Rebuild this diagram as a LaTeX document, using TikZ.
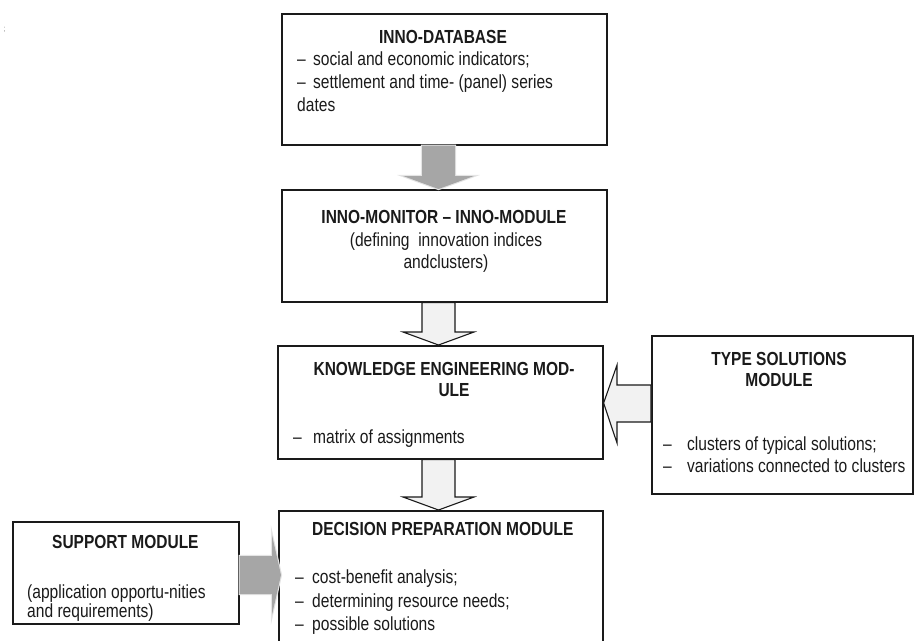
\documentclass[tikz,border=0pt]{standalone}
\usepackage{fontspec}
\setmainfont[FakeStretch=0.82]{Liberation Sans}
\usetikzlibrary{calc}
\definecolor{arrowgray}{HTML}{A6A6A6}
\definecolor{arrowlight}{HTML}{F2F2F2}
\definecolor{inkgray}{HTML}{1A1A1A}

% vertical block arrow from the bottom of box #1 to the top of box #2
\newcommand\vblock[3]{%
  \path[#3] ($(ax |- #1.south)+(-16.5,0)$)
    -- ($(ax |- #2.north)+(-16.5,-13)$) -- ($(ax |- #2.north)+(-35.5,-13)$)
    -- (ax |- #2.north)
    -- ($(ax |- #2.north)+(35.5,-13)$) -- ($(ax |- #2.north)+(16.5,-13)$)
    -- ($(ax |- #1.south)+(16.5,0)$) -- cycle;}

\begin{document}
\begin{tikzpicture}[x=1pt,y=-1pt,
  box/.style={draw=inkgray, line width=1.6pt, rectangle, inner sep=0pt, anchor=north west},
  txt/.style={inner sep=0pt, anchor=base west, text=inkgray, font=\fontsize{19}{22}\selectfont},
  ctxt/.style={txt, anchor=base},
  ttl/.style={ctxt, font=\fontsize{18.9}{22}\selectfont\bfseries},
  solidarrow/.style={fill=arrowgray, preaction={draw=arrowgray!30, line width=2.2pt, line join=miter}},
  openarrow/.style={fill=arrowlight, draw=inkgray, line width=1.1pt, line join=miter},
]
\path[use as bounding box] (0,0) rectangle (915,640);
\clip (0,0) rectangle (915,640);

% boxes
\node[box, minimum width=325, minimum height=131] (db)  at (281,13)  {};
\node[box, minimum width=325, minimum height=112] (mon) at (281,189) {};
\node[box, minimum width=325, minimum height=113] (ke)  at (277,345) {};
\node[box, minimum width=261, minimum height=158] (ts)  at (651,335) {};
\node[box, minimum width=324, minimum height=160] (dp)  at (278,510) {};
\node[box, minimum width=226, minimum height=102] (sup) at (12,521)  {};

% axis of the vertical arrows
\coordinate (ax) at (438.5,0);

% block arrows
\vblock{db}{mon}{solidarrow}
\vblock{mon}{ke}{openarrow}
\vblock{ke}{dp}{openarrow}

\path[openarrow] ($(ts.west |- 0,385)$) -- (617,385) -- (617,365)
  -- (ke.east |- 0,403) -- (617,443) -- (617,422) -- ($(ts.west |- 0,422)$) -- cycle;

\path[solidarrow] ($(sup.east |- 0,556)$) -- (272,556) -- (272,535)
  -- ($(dp.west |- 0,575)+(3,0)$) -- (272,615) -- (272,594) -- ($(sup.east |- 0,594)$) -- cycle;

% INNO-DATABASE
\node[ttl] (dbt) at (443,43) {INNO-DATABASE};
\node[txt] (db1) at (297,65)  {\makebox[16pt][l]{–}social and economic indicators;};
\node[txt] (db2) at (297,88)  {\makebox[16pt][l]{–}settlement and time- (panel) series};
\node[txt] (db3) at (297,111) {dates};

% INNO-MONITOR
\node[ttl]  (mont) at (444,223) {INNO-MONITOR – INNO-MODULE};
\node[ctxt] (mon1) at (446,246) {(defining\ \ innovation indices};
\node[ctxt] (mon2) at (446,268) {andclusters)};

% KNOWLEDGE ENGINEERING
\node[ttl] (ket1) at (444,375) {KNOWLEDGE ENGINEERING MOD-};
\node[ttl] (ket2) at (454,396) {ULE};
\node[txt] (ke1)  at (293,443) {\makebox[20pt][l]{–}matrix of assignments};

% TYPE SOLUTIONS
\node[ttl] (tst1) at (779,365) {TYPE SOLUTIONS};
\node[ttl] (tst2) at (779,386) {MODULE};
\node[txt] (ts1)  at (663,450) {\makebox[24pt][l]{–}clusters of typical solutions;};
\node[txt] (ts2)  at (663,472) {\makebox[24pt][l]{–}variations connected to clusters};

% DECISION PREPARATION
\node[ttl, anchor=base west] (dpt) at (312,535) {DECISION PREPARATION MODULE};
\node[txt] (dp1) at (295,583) {\makebox[17pt][l]{–}cost-benefit analysis;};
\node[txt] (dp2) at (295,607) {\makebox[17pt][l]{–}determining resource needs;};
\node[txt] (dp3) at (295,630) {\makebox[17pt][l]{–}possible solutions};

% SUPPORT
\node[ttl, anchor=base west] (supt) at (52,548) {SUPPORT MODULE};
\node[txt] (sup1) at (27,598) {(application opportu-nities};
\node[txt] (sup2) at (27,617) {and requirements)};

% stray mark in the corner
\node[inner sep=0pt, anchor=base, text=gray, font=\fontsize{8}{8}\selectfont] (mark) at (4.5,31) {;};
\end{tikzpicture}
\end{document}
